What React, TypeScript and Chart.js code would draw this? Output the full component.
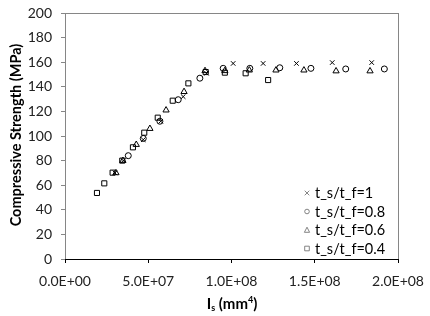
import React, { useEffect, useRef } from "react";
import { Chart, registerables } from "chart.js";

Chart.register(...registerables);

// t_s/t_f = 1 (crosses)
const r10X = [3.0e7, 3.5e7, 4.7e7, 5.75e7, 7.1e7, 8.5e7, 1.01e8, 1.19e8, 1.39e8, 1.605e8, 1.842e8];
const r10Y = [70, 80, 97, 112, 132, 151, 159, 159, 159, 159.7, 159.7];
// t_s/t_f = 0.8 (circles)
const r08X = [3.8e7, 4.7e7, 5.7e7, 6.8e7, 8.1e7, 9.5e7, 1.11e8, 1.29e8, 1.477e8, 1.686e8, 1.918e8];
const r08Y = [84, 98, 112, 129.5, 147, 155, 155, 155.5, 155, 154.5, 154.5];
// t_s/t_f = 0.6 (triangles)
const r06X = [3.06e7, 3.48e7, 4.28e7, 5.1e7, 6.07e7, 7.15e7, 8.41e7, 9.6e7, 1.107e8, 1.267e8, 1.435e8, 1.628e8, 1.832e8];
const r06Y = [70, 80, 93, 106, 121, 136, 153, 153, 153.5, 153.5, 153.5, 152.8, 152.8];
// t_s/t_f = 0.4 (squares)
const r04X = [1.92e7, 2.36e7, 2.86e7, 3.44e7, 4.08e7, 4.76e7, 5.57e7, 6.47e7, 7.41e7, 8.45e7, 9.6e7, 1.085e8, 1.22e8];
const r04Y = [53.7, 61.5, 70.2, 80, 90.8, 102.7, 114.9, 128.7, 142.8, 152, 151.5, 151, 145.5];

const seriesLabels = ["t_s/t_f=1", "t_s/t_f=0.8", "t_s/t_f=0.6", "t_s/t_f=0.4"];
const yTitle = "Compressive Strength (MPa)";
const xTitleMain = "I";
const xTitleSub = "s";
const xTitleUnit = "(mm";
const xTitleSup = "4";

const FONT = "Lato";

function fmtExp(v: number): string {
  if (v === 0) return "0.0E+00";
  const e = Math.floor(Math.log10(Math.abs(v)) + 1e-9);
  const m = v / Math.pow(10, e);
  const es = (e < 0 ? "-" : "+") + String(Math.abs(e)).padStart(2, "0");
  return m.toFixed(1) + "E" + es;
}

const zip = (xs: number[], ys: number[]) => xs.map((x, i) => ({ x, y: ys[i] }));

function legendMarker(ctx: CanvasRenderingContext2D, style: string, x: number, y: number) {
  const r = 2.3;
  ctx.beginPath();
  if (style === "crossRot") {
    ctx.moveTo(x - r, y - r); ctx.lineTo(x + r, y + r);
    ctx.moveTo(x + r, y - r); ctx.lineTo(x - r, y + r);
  } else if (style === "circle") {
    ctx.arc(x, y, r, 0, Math.PI * 2);
  } else if (style === "triangle") {
    ctx.moveTo(x, y - r - 0.5); ctx.lineTo(x + r + 0.3, y + r); ctx.lineTo(x - r - 0.3, y + r); ctx.closePath();
  } else {
    ctx.rect(x - r, y - r, 2 * r, 2 * r);
  }
  ctx.stroke();
}

export default function App() {
  const ref = useRef<HTMLCanvasElement | null>(null);
  useEffect(() => {
    if (!ref.current) return;
    const styles = ["crossRot", "circle", "triangle", "rect"];
    const radii = [3.2, 3, 3.6, 3.6];
    const dataSets = [zip(r10X, r10Y), zip(r08X, r08Y), zip(r06X, r06Y), zip(r04X, r04Y)];

    const overlay = {
      id: "overlay",
      afterDraw(chart: any) {
        const ctx = chart.ctx;
        const a = chart.chartArea;
        ctx.save();
        // plot border
        ctx.strokeStyle = "#868686";
        ctx.lineWidth = 1;
        ctx.strokeRect(Math.round(a.left) + 0.5, Math.round(a.top) + 0.5, Math.round(a.right - a.left), Math.round(a.bottom - a.top));
        ctx.strokeStyle = "#000";
        ctx.beginPath();
        ctx.moveTo(a.left, Math.round(a.bottom) + 0.5);
        ctx.lineTo(a.right + 1, Math.round(a.bottom) + 0.5);
        ctx.stroke();

        // legend
        const lx = 307;
        const tx = 315;
        const ys = [193, 211.5, 230, 248.5];
        ctx.font = `14.5px ${FONT}`;
        ctx.textBaseline = "middle";
        ctx.textAlign = "left";
        ys.forEach((y, i) => {
          ctx.strokeStyle = "#666";
          ctx.lineWidth = 0.8;
          legendMarker(ctx, styles[i], lx, y);
          ctx.fillStyle = "#000";
          ctx.fillText(seriesLabels[i], tx, y + 0.5);
        });

        // x title
        ctx.fillStyle = "#000";
        ctx.textBaseline = "alphabetic";
        const baseY = 309;
        const big = `bold 15px ${FONT}`;
        const small = `bold 9px ${FONT}`;
        ctx.font = big;
        const wI = ctx.measureText(xTitleMain).width;
        ctx.font = small;
        const wS = ctx.measureText(xTitleSub).width;
        ctx.font = big;
        const wU = ctx.measureText(" " + xTitleUnit).width;
        ctx.font = small;
        const w4 = ctx.measureText(xTitleSup).width;
        ctx.font = big;
        const wP = ctx.measureText(")").width;
        const total = wI + wS + wU + w4 + wP;
        let x = 232 - total / 2;
        ctx.font = big;
        ctx.fillText(xTitleMain, x, baseY); x += wI;
        ctx.font = small;
        ctx.fillText(xTitleSub, x, baseY + 2); x += wS;
        ctx.font = big;
        ctx.fillText(" " + xTitleUnit, x, baseY); x += wU;
        ctx.font = small;
        ctx.fillText(xTitleSup, x, baseY - 6); x += w4;
        ctx.font = big;
        ctx.fillText(")", x, baseY);

        // y title
        ctx.translate(16, 135);
        ctx.rotate(-Math.PI / 2);
        ctx.textAlign = "center";
        ctx.textBaseline = "middle";
        ctx.font = `bold 14.5px ${FONT}`;
        ctx.fillText(yTitle, 0, 0);
        ctx.restore();
      },
    };

    const chart = new Chart(ref.current, {
      type: "scatter",
      data: {
        datasets: dataSets.map((d, i) => ({
          label: seriesLabels[i],
          data: d,
          pointStyle: styles[i] as any,
          pointRadius: radii[i],
          pointBorderColor: "#000",
          pointBackgroundColor: "rgba(0,0,0,0)",
          pointBorderWidth: 1,
          borderColor: "#000",
          backgroundColor: "rgba(0,0,0,0)",
          showLine: false,
        })),
      },
      options: {
        animation: false,
        responsive: false,
        layout: { padding: { top: 13, right: 32, left: 0, bottom: 0 } },
        plugins: { legend: { display: false }, tooltip: { enabled: false } },
        scales: {
          x: {
            type: "linear",
            min: 0,
            max: 2e8,
            afterFit: (s: any) => { s.height = 57; s.paddingLeft = 0; s.paddingRight = 0; },
            afterBuildTicks: (s: any) => {
              s.ticks = [0, 5e7, 1e8, 1.5e8, 2e8].map((v) => ({ value: v }));
            },
            border: { display: false },
            grid: { drawOnChartArea: false, tickLength: 4, color: "#000" },
            ticks: {
              color: "#222",
              font: { family: FONT, size: 14 },
              padding: 10,
              maxRotation: 0,
              callback: (v: any) => fmtExp(Number(v)),
            },
          },
          y: {
            type: "linear",
            min: 0,
            max: 200,
            afterFit: (s: any) => { s.width = 65; s.paddingTop = 0; s.paddingBottom = 0; },
            border: { display: false },
            grid: { drawOnChartArea: false, tickLength: 4, color: "#868686" },
            ticks: {
              stepSize: 20,
              color: "#222",
              font: { family: FONT, size: 14 },
              padding: 9,
            },
          },
        },
      },
      plugins: [overlay],
    });
    return () => chart.destroy();
  }, []);

  return (
    <div style={{ position: "absolute", left: 0, top: 0, width: 430, height: 316, background: "#fff" }}>
      <canvas ref={ref} width={430} height={316} style={{ width: 430, height: 316 }} />
    </div>
  );
}
